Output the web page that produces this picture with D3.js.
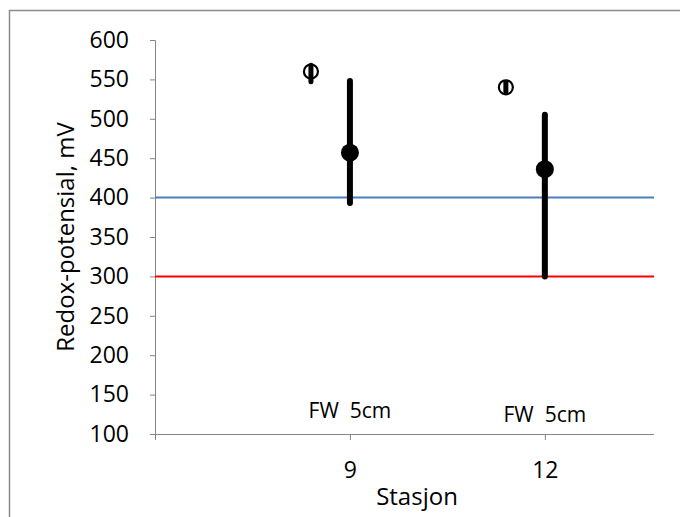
<!DOCTYPE html>
<html>
<head>
<meta charset="utf-8">
<script src="https://cdn.jsdelivr.net/npm/d3@7"></script>
<style>
  body { margin: 0; background: #fff; }
  text { font-family: "Open Sans", sans-serif; fill: #000; white-space: pre; }
</style>
</head>
<body>
<div id="chart"></div>
<script>
var svgWidth = 680;
var svgHeight = 517;

var margin = { top: 40, right: 26, bottom: 83, left: 155 };
var width = svgWidth - margin.left - margin.right;
var height = svgHeight - margin.top - margin.bottom;

// data
var stations = ["9", "12"];
var stationPos = [1, 2];
var meanFilled = [457, 436];
var minFilled = [393, 300];
var maxFilled = [548, 505];
var meanOpen = [560, 540];
var minOpen = [547, 535];
var maxOpen = [568, 546];
var openPos = [0.8, 1.8];
var labelText = ["FW  5cm", "FW  5cm"];
var labelValue = [120, 115];
var yTicks = [100, 150, 200, 250, 300, 350, 400, 450, 500, 550, 600];
var limitBlue = 400;
var limitRed = 300;

var svg = d3.select("#chart")
  .append("svg")
  .attr("width", svgWidth)
  .attr("height", svgHeight);

// outer frame
svg.append("rect")
  .attr("x", 9.5).attr("y", 10.5)
  .attr("width", 680).attr("height", 520)
  .attr("fill", "none")
  .attr("stroke", "#8c8c8c")
  .attr("stroke-width", 1.5);

var chartGroup = svg.append("g")
  .attr("transform", `translate(${margin.left}, ${margin.top})`);

var xScale = d3.scaleLinear().domain([0, 2.56]).range([0, width]);
var yScale = d3.scaleLinear().domain([100, 600]).range([height, 0]);

// y axis
var yAxis = d3.axisLeft(yScale).tickValues(yTicks).tickSize(5).tickPadding(21);
var yG = chartGroup.append("g").call(yAxis);
yG.select(".domain").attr("stroke", "#868686").attr("d", `M-5,0.5H0.5V${height}`);
yG.selectAll(".tick line").attr("stroke", "#868686");
yG.selectAll("text").attr("font-size", "23px").attr("font-family", "'Open Sans', sans-serif");

// x axis
var xAxis = d3.axisBottom(xScale).tickValues([0].concat(stationPos))
  .tickFormat(function(d) { var i = stationPos.indexOf(d); return i < 0 ? "" : stations[i]; })
  .tickSize(6).tickPadding(22);
var xG = chartGroup.append("g").attr("transform", `translate(0, ${height})`).call(xAxis);
xG.select(".domain").attr("stroke", "#868686").attr("d", `M0,0.5H${width}`);
xG.selectAll(".tick line").attr("stroke", "#868686");
xG.selectAll("text").attr("font-size", "23px").attr("font-family", "'Open Sans', sans-serif");

// limit lines
chartGroup.append("line")
  .attr("x1", 0).attr("x2", width)
  .attr("y1", yScale(limitBlue)).attr("y2", yScale(limitBlue))
  .attr("stroke", "#4a7ebb").attr("stroke-width", 2);
chartGroup.append("line")
  .attr("x1", 0).attr("x2", width)
  .attr("y1", yScale(limitRed)).attr("y2", yScale(limitRed))
  .attr("stroke", "#ff0000").attr("stroke-width", 2);

// filled points with range bars
var idx = d3.range(stations.length);
chartGroup.selectAll(".barF")
  .data(idx).enter().append("line")
  .attr("x1", i => xScale(stationPos[i])).attr("x2", i => xScale(stationPos[i]))
  .attr("y1", i => yScale(minFilled[i])).attr("y2", i => yScale(maxFilled[i]))
  .attr("stroke", "black").attr("stroke-width", 6).attr("stroke-linecap", "round");
chartGroup.selectAll(".dotF")
  .data(idx).enter().append("circle")
  .attr("cx", i => xScale(stationPos[i]))
  .attr("cy", i => yScale(meanFilled[i]))
  .attr("r", 9).attr("fill", "black");

// open points
chartGroup.selectAll(".barO")
  .data(idx).enter().append("line")
  .attr("x1", i => xScale(openPos[i])).attr("x2", i => xScale(openPos[i]))
  .attr("y1", i => yScale(minOpen[i])).attr("y2", i => yScale(maxOpen[i]))
  .attr("stroke", "black").attr("stroke-width", 5).attr("stroke-linecap", "round");
chartGroup.selectAll(".dotO")
  .data(idx).enter().append("circle")
  .attr("cx", i => xScale(openPos[i]))
  .attr("cy", i => yScale(meanOpen[i]))
  .attr("r", 7).attr("fill", "none")
  .attr("stroke", "black").attr("stroke-width", 2.2);

// annotations (baseline placed at the value)
chartGroup.selectAll(".lab")
  .data(idx).enter().append("text")
  .attr("x", i => xScale(stationPos[i]))
  .attr("y", i => yScale(labelValue[i]))
  .attr("text-anchor", "middle")
  .attr("font-size", "21px")
  .text(i => labelText[i]);

// axis titles
chartGroup.append("text")
  .attr("transform", "rotate(-90)")
  .attr("x", -(yScale(350)))
  .attr("y", -81)
  .attr("text-anchor", "middle")
  .attr("font-size", "24px")
  .text("Redox-potensial, mV");

chartGroup.append("text")
  .attr("x", 262)
  .attr("y", height + 71)
  .attr("text-anchor", "middle")
  .attr("font-size", "24px")
  .text("Stasjon");
</script>
</body>
</html>
